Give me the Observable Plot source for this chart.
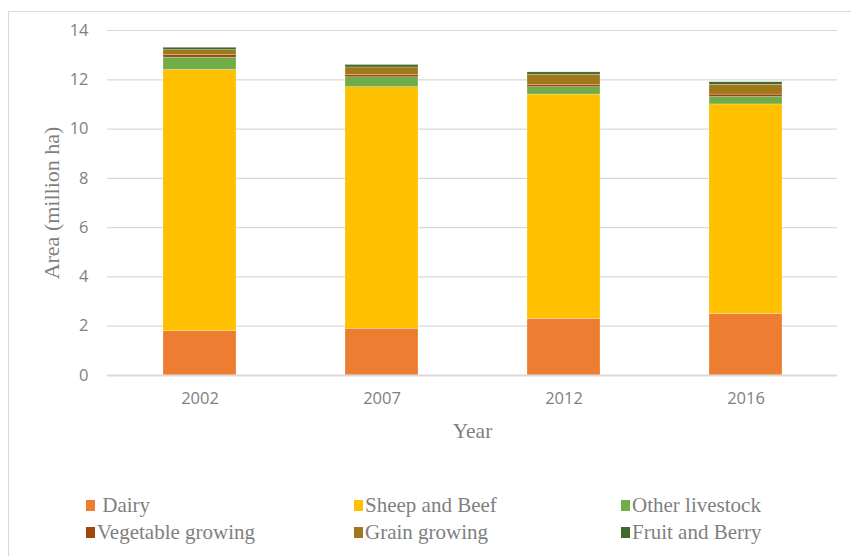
<!DOCTYPE html>
<html>
<head>
<meta charset="utf-8">
<script src="https://cdn.jsdelivr.net/npm/d3@7"></script>
<script src="https://cdn.jsdelivr.net/npm/@observablehq/plot@0.6"></script>
<style>
  html, body { margin: 0; padding: 0; background: #fff; }
  #wrap { position: relative; width: 851px; height: 556px; overflow: hidden; }
  #frame { position: absolute; left: 8px; top: 11px; width: 860px; height: 560px; border: 1px solid #d9d9d9; box-sizing: border-box; }
  #chart { position: absolute; left: 0; top: 0; }
  #chart svg { font-family: "Open Sans", sans-serif; }
  g[aria-label="y-axis label"] text { font-family: "Liberation Serif", serif; font-size: 22px; fill: #7f7f7f; }
  g[aria-label="x-axis label"] text { font-family: "Liberation Serif", serif; font-size: 21.5px; fill: #7f7f7f; }
  #legend { position: absolute; left: 86px; top: 494px; display: grid;
    grid-template-columns: 268px 267px 220px; row-gap: 5px;
    font-family: "Liberation Serif", serif; font-size: 21px; color: #7f7f7f; }
  .item { display: flex; align-items: center; height: 22px; white-space: nowrap; }
  .sw { width: 9px; height: 11px; margin-right: 2px; flex: none; }
</style>
</head>
<body>
<div id="wrap">
  <div id="frame"></div>
  <div id="chart"></div>
  <div id="legend"></div>
</div>
<script>
const years = ["2002", "2007", "2012", "2016"];
const categories = ["Dairy", "Sheep and Beef", "Other livestock", "Vegetable growing", "Grain growing", "Fruit and Berry"];
const colors = ["#ED7D31", "#FFC000", "#70AD47", "#9E480E", "#A0781C", "#43682B"];
const dairy = [1.8, 1.9, 2.3, 2.5];
const sheepAndBeef = [10.6, 9.8, 9.1, 8.5];
const otherLivestock = [0.5, 0.4, 0.3, 0.3];
const vegetableGrowing = [0.1, 0.1, 0.1, 0.1];
const grainGrowing = [0.2, 0.3, 0.4, 0.4];
const fruitAndBerry = [0.1, 0.1, 0.1, 0.1];
const yTicks = [0, 2, 4, 6, 8, 10, 12, 14];

const series = [dairy, sheepAndBeef, otherLivestock, vegetableGrowing, grainGrowing, fruitAndBerry];
const rows = [];
categories.forEach((c, i) => years.forEach((y, j) => rows.push({year: y, category: c, value: series[i][j]})));

const chart = Plot.plot({
  width: 851,
  height: 460,
  marginLeft: 107,
  marginRight: 14,
  marginTop: 30,
  marginBottom: 85,
  style: {fontSize: "16.5px", color: "#7f7f7f", background: "transparent"},
  x: {domain: years, paddingInner: 0.6, paddingOuter: 0.3, label: "Year"},
  y: {domain: [0, 14], ticks: yTicks, label: "Area (million ha)"},
  color: {domain: categories, range: colors},
  marks: [
    Plot.gridY(yTicks, {stroke: "#d9d9d9", strokeOpacity: 1, strokeWidth: 1.2}),
    Plot.barY(rows, {x: "year", y: "value", fill: "category", order: categories, stroke: "white", strokeWidth: 0.4, strokeOpacity: 0.6}),
    Plot.ruleY([0], {stroke: "#d9d9d9", strokeWidth: 1.8}),
    Plot.axisY(yTicks, {tickSize: 0, tickPadding: 19, fill: "#7f7f7f", label: "Area (million ha)", labelAnchor: "center", labelOffset: 64, labelArrow: "none"}),
    Plot.axisX({tickSize: 0, tickPadding: 17, fill: "#7f7f7f", label: "Year", labelAnchor: "center", labelOffset: 62, labelArrow: "none"})
  ]
});
document.getElementById("chart").appendChild(chart);

const legend = document.getElementById("legend");
categories.forEach((c, i) => {
  const d = document.createElement("div");
  d.className = "item";
  const s = document.createElement("span");
  s.className = "sw";
  s.style.background = colors[i];
  const t = document.createElement("span");
  t.textContent = (i === 0 ? "\u00a0" : "") + c;
  d.appendChild(s); d.appendChild(t);
  legend.appendChild(d);
});
</script>
</body>
</html>
